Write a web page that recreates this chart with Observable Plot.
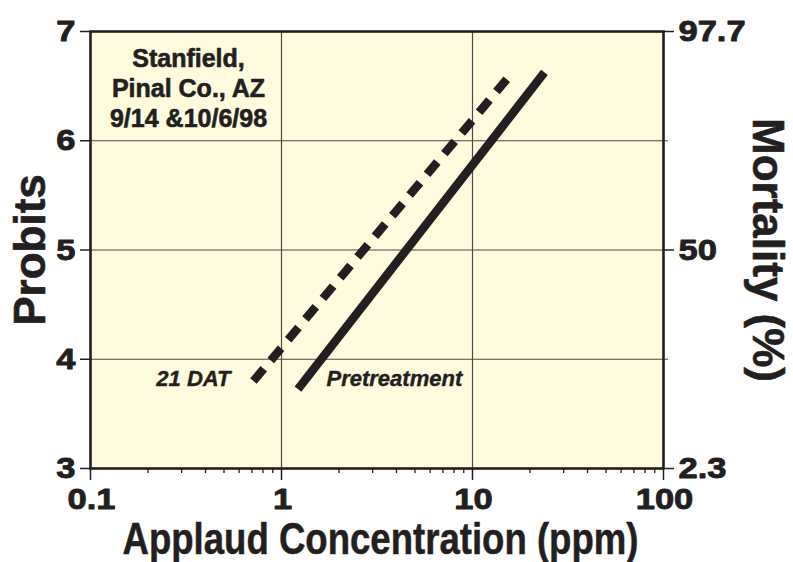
<!DOCTYPE html>
<html><head><meta charset="utf-8">
<script src="https://cdn.jsdelivr.net/npm/d3@7"></script>
<script src="https://cdn.jsdelivr.net/npm/@observablehq/plot@0.6"></script>
<style>body{margin:0;background:#fff}</style>
</head><body><div id="chart"></div>
<script>
// Regression lines: endpoints (concentration ppm, probit)
const dat21Conc = [0.713, 16.2];
const dat21Probit = [3.80, 6.625];
const preConc = [1.22, 23.8];
const preProbit = [3.726, 6.625];

const xMajorTicks = [0.1, 1, 10, 100];
const xMajorLabels = ["0.1", "1", "10", "100"];
const xMinorTicks = [0.2, 0.3, 0.4, 0.5, 0.6, 0.7, 0.8, 0.9,
                     2, 3, 4, 5, 6, 7, 8, 9,
                     20, 30, 40, 50, 60, 70, 80, 90];
const probitTicks = [3, 4, 5, 6, 7];
const probitLabels = ["3", "4", "5", "6", "7"];
const mortalityTicks = [3, 5, 7];
const mortalityLabels = ["2.3", "50", "97.7"];
const gridX = [1, 10];
const gridY = [4, 6];
const gridYMid = [5];
const noteText = ["Stanfield,\nPinal Co., AZ\n9/14 &10/6/98"];
const seriesNames = ["21 DAT", "Pretreatment"];

const dat21 = dat21Conc.map((c, i) => ({conc: c, probit: dat21Probit[i]}));
const pre = preConc.map((c, i) => ({conc: c, probit: preProbit[i]}));

const ink = "#231f20";
const gridColor = "#4a4a4a";
const none = () => "";
const heavy = {fill: ink, stroke: ink, strokeWidth: 0.9, fontWeight: "bold"};

const chart = Plot.plot({
  width: 793,
  height: 562,
  marginLeft: 90,
  marginRight: 130,
  marginTop: 31,
  marginBottom: 94,
  style: {fontFamily: "'Liberation Sans', Arial, sans-serif", background: "#fff", color: ink},
  x: {type: "log", domain: [0.1, 100]},
  y: {domain: [3, 7]},
  marks: [
    Plot.frame({fill: "#fefbdf"}),
    Plot.ruleX(gridX, {stroke: gridColor, strokeWidth: 1.2}),
    Plot.ruleY(gridY, {stroke: gridColor, strokeWidth: 1.2, insetRight: -5}),
    Plot.ruleY(gridYMid, {stroke: gridColor, strokeWidth: 1.2}),
    Plot.line(dat21, {x: "conc", y: "probit", stroke: ink, strokeWidth: 8.5, strokeDasharray: "16,11", strokeLinecap: "butt"}),
    Plot.line(pre, {x: "conc", y: "probit", stroke: ink, strokeWidth: 8.5, strokeLinecap: "butt"}),
    Plot.frame({stroke: ink, strokeWidth: 2.6}),
    Plot.axisY({ticks: probitTicks, tickFormat: none, tickSize: 10, color: ink, strokeWidth: 1.5, label: null}),
    Plot.axisY({anchor: "right", ticks: mortalityTicks, tickFormat: none, tickSize: 10, color: ink, strokeWidth: 1.5, label: null}),
    Plot.axisX({ticks: xMajorTicks, tickFormat: none, tickSize: 12, color: ink, strokeWidth: 1.5, label: null}),
    Plot.axisX({ticks: xMinorTicks, tickFormat: none, tickSize: 5, color: ink, strokeWidth: 1.3, label: null}),
    // tick labels
    Plot.text(probitTicks, {y: (d) => d, text: (d, i) => probitLabels[i], frameAnchor: "left", dx: -15, textAnchor: "end", lineAnchor: "middle", fontSize: 30, ...heavy}),
    Plot.text(mortalityTicks, {y: (d) => d, text: (d, i) => mortalityLabels[i], frameAnchor: "right", dx: 15, textAnchor: "start", lineAnchor: "middle", fontSize: 30, ...heavy}),
    Plot.text(xMajorTicks, {x: (d) => d, text: (d, i) => xMajorLabels[i], frameAnchor: "bottom", dx: 1, dy: 19, textAnchor: "middle", lineAnchor: "top", fontSize: 30, ...heavy}),
    // annotations
    Plot.text(noteText, {frameAnchor: "top-left", dx: 98, dy: 14, lineAnchor: "top", textAnchor: "middle", fontSize: 25, lineHeight: 1.2, ...heavy, strokeWidth: 0.6}),
    Plot.text([seriesNames[0]], {frameAnchor: "top-left", dx: 140, dy: 347, textAnchor: "end", lineAnchor: "middle", fontSize: 22, fontStyle: "italic", ...heavy, strokeWidth: 0.4}),
    Plot.text([seriesNames[1]], {frameAnchor: "top-left", dx: 236, dy: 347, textAnchor: "start", lineAnchor: "middle", fontSize: 22, fontStyle: "italic", ...heavy, strokeWidth: 0.4}),
    // axis titles
    Plot.text(["Probits"], {frameAnchor: "left", dx: -60, rotate: -90, lineAnchor: "middle", textAnchor: "middle", fontSize: 44, ...heavy, strokeWidth: 0.6}),
    Plot.text(["Mortality (%)"], {frameAnchor: "right", dx: 104, rotate: 90, lineAnchor: "middle", textAnchor: "middle", fontSize: 44, ...heavy, strokeWidth: 0.6}),
    Plot.text(["Applaud Concentration (ppm)"], {frameAnchor: "bottom", dx: 3.5, dy: 71, lineAnchor: "middle", textAnchor: "middle", fontSize: 44, fontFamily: "'Liberation Sans Narrow', 'Liberation Sans', Arial, sans-serif", ...heavy, strokeWidth: 0.5})
  ]
});

document.getElementById("chart").appendChild(chart);

const svg = d3.select(chart);
const tickLabelSet = new Set([...probitLabels, ...mortalityLabels, ...xMajorLabels]);
svg.selectAll("text")
  .filter(function () { return tickLabelSet.has(this.textContent); })
  .each(function () {
    const w = this.getComputedTextLength();
    if (w > 0) {
      this.setAttribute("textLength", (w * 1.15).toFixed(1));
      this.setAttribute("lengthAdjust", "spacingAndGlyphs");
    }
  });
svg.selectAll("text")
  .filter(function () { return this.textContent === "Applaud Concentration (ppm)"; })
  .attr("textLength", 516)
  .attr("lengthAdjust", "spacingAndGlyphs");
</script>
</body></html>
